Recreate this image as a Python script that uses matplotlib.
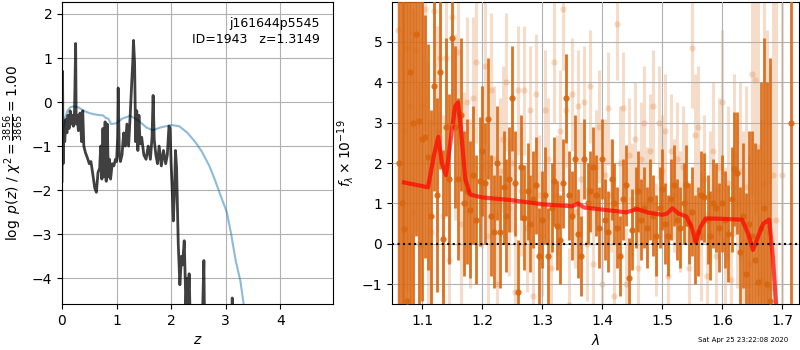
import numpy as np
import matplotlib
matplotlib.use("Agg")
import matplotlib.pyplot as plt

# ---------------------------------------------------------------------------
# DATA
# ---------------------------------------------------------------------------
# left panel: redshift PDF
pz_z = [0.00, 0.01, 0.02, 0.03, 0.05, 0.07, 0.09, 0.11, 0.13, 0.15, 0.17, 0.19,
        0.21, 0.23, 0.25, 0.26, 0.28, 0.30, 0.33, 0.36, 0.38, 0.40, 0.43, 0.46,
        0.50, 0.53, 0.56, 0.60, 0.63, 0.66, 0.69, 0.71, 0.73, 0.75, 0.77, 0.79,
        0.81, 0.83, 0.85, 0.87, 0.89, 0.92, 0.95, 0.98, 1.00, 1.02, 1.03, 1.05,
        1.07, 1.10, 1.13, 1.16, 1.19, 1.22, 1.25, 1.28, 1.30, 1.31, 1.33, 1.35,
        1.37, 1.39, 1.41, 1.43, 1.46, 1.50, 1.54, 1.58, 1.62, 1.65, 1.67, 1.69,
        1.72, 1.75, 1.78, 1.82, 1.86, 1.90, 1.93, 1.96, 1.98, 2.00, 2.02, 2.04,
        2.06, 2.08, 2.10, 2.13, 2.16, 2.19, 2.21, 2.24, 2.27, 2.29, 2.31, 2.33,
        2.36, 2.40, 2.45, 2.50, 2.55, 2.58, 2.60, 2.62, 2.66, 2.80, 3.00, 3.10,
        3.12, 3.14, 3.20]
pz_logp = [-1.80, 0.70, -1.40, -0.50, -0.90, -0.40, -0.70, -0.30, -0.60, -0.20,
           -0.50, -0.30, -0.55, -0.20, 1.33, -0.50, -0.30, -0.65, -0.25, -0.90,
           -0.20, -1.00, -1.15, -1.25, -1.40, -1.35, -1.60, -1.95, -2.05, -1.60,
           -1.50, -1.00, -1.75, -0.60, -1.70, -0.45, -1.80, -0.50, -1.70, -1.30,
           -1.75, -1.40, -1.45, -1.30, -1.35, -0.80, 0.32, -1.20, -1.35, -1.20,
           -0.70, -1.00, -0.50, -1.00, -0.30, 0.50, 1.00, 1.40, 0.90, -0.90,
           -0.20, -1.10, -0.30, -0.95, -0.80, -1.20, -1.30, -1.00, -1.30, -0.80,
           0.15, -0.85, -1.20, -1.40, -1.00, -1.45, -1.10, -1.40, -1.20, -0.55,
           -0.60, -1.40, -2.00, -2.70, -2.10, -1.10, -1.50, -3.20, -4.15, -3.50,
           -3.70, -3.15, -4.60, -4.00, -4.60, -3.90, -5.50, -6.00, -6.00, -6.00,
           -6.00, -4.60, -3.60, -6.00, -6.00, -6.00, -6.00, -6.00, -4.45, -6.00,
           -6.00]

prior_z = [0.00, 0.03, 0.06, 0.10, 0.15, 0.20, 0.30, 0.40, 0.50, 0.60, 0.70, 0.75,
           0.80, 0.85, 0.90, 1.00, 1.10, 1.25, 1.40, 1.55, 1.66, 1.80, 2.00, 2.15,
           2.30, 2.45, 2.56, 2.70, 2.80, 2.90, 3.02, 3.10, 3.18, 3.27, 3.33]
prior_logp = [-1.00, -0.60, -0.35, -0.20, -0.12, -0.10, -0.12, -0.20, -0.25,
              -0.28, -0.30, -0.30, -0.36, -0.38, -0.50, -0.48, -0.38, -0.31,
              -0.42, -0.58, -0.64, -0.58, -0.52, -0.55, -0.70, -0.92, -1.12,
              -1.45, -1.76, -2.10, -2.50, -3.00, -3.58, -4.07, -4.60]

# right panel: grism spectrum, orientation 1 (dark)
wave_a = [1.062, 1.066, 1.070, 1.075, 1.080, 1.085, 1.090, 1.095, 1.100, 1.105,
          1.110, 1.115, 1.120, 1.125, 1.130, 1.135, 1.140, 1.145, 1.150, 1.155,
          1.160, 1.165, 1.170, 1.175, 1.180, 1.185, 1.190, 1.196, 1.200, 1.205,
          1.210, 1.215, 1.220, 1.225, 1.230, 1.236, 1.240, 1.245, 1.250, 1.255,
          1.260, 1.265, 1.270, 1.276, 1.280, 1.285, 1.290, 1.295, 1.300, 1.305,
          1.310, 1.316, 1.320, 1.325, 1.330, 1.335, 1.340, 1.345, 1.350, 1.355,
          1.360, 1.365, 1.370, 1.376, 1.380, 1.385, 1.390, 1.395, 1.400, 1.405,
          1.410, 1.416, 1.420, 1.425, 1.430, 1.435, 1.440, 1.445, 1.450, 1.456,
          1.460, 1.465, 1.470, 1.475, 1.480, 1.485, 1.490, 1.496, 1.500, 1.505,
          1.510, 1.515, 1.520, 1.525, 1.530, 1.536, 1.540, 1.545, 1.550, 1.555,
          1.560, 1.565, 1.570, 1.576, 1.580, 1.585, 1.590, 1.595, 1.600, 1.605,
          1.610, 1.616, 1.620, 1.625, 1.630, 1.635, 1.640, 1.645, 1.650, 1.655,
          1.660, 1.665, 1.670, 1.675, 1.680, 1.715]
flux_a = [2.0, 1.0, 0.37, -1.40, 4.25, 3.0, 5.20, 3.05, 2.60, 2.65,
          2.15, 0.70, 3.90, 1.20, 4.25, 0.12, 2.90, 1.60, 5.10, 2.90,
          1.60, 3.20, 1.00, 1.30, 0.85, 1.70, 0.60, 1.55, 2.30, 1.50,
          3.10, 0.70, 0.30, 2.00, 0.30, 1.40, 0.70, 1.60, 3.60, 1.50,
          -1.20, 1.90, 0.65, 1.30, 0.50, 1.10, 1.45, -0.30, 0.60, 1.20,
          -0.30, 0.90, 1.55, 0.45, 0.10, 1.50, 3.60, 1.20, 0.70, 2.10,
          0.25, -0.30, 2.10, 1.00, 1.30, 1.90, 1.20, 0.40, 2.10, 0.60,
          0.30, 1.60, 1.00, 0.40, -0.30, 1.10, 1.45, -0.85, 0.35, 0.90,
          1.30, 0.60, 0.90, 0.40, 1.10, 0.70, 0.20, 0.90, 1.35, 0.50,
          0.20, 1.10, 1.45, 0.60, 0.40, 1.00, 1.45, 0.50, 0.80, 0.10,
          0.30, 1.20, 1.15, 0.60, 0.20, 1.00, 0.90, 0.40, 1.00, 0.60,
          0.25, 1.10, 1.85, 1.75, -0.20, 0.70, -0.75, 0.50, 0.20, -0.40,
          -0.95, 0.40, 0.90, -1.00, -1.40, 3.00]
err_a = [9.0, 9.0, 8.0, 8.0, 7.0, 6.0, 5.0, 5.0, 4.0, 3.0,
         2.8, 2.6, 2.6, 2.4, 2.4, 2.2, 2.2, 2.1, 2.1, 2.0,
         2.0, 1.9, 1.8, 1.8, 1.7, 1.7, 1.6, 1.6, 1.6, 1.5,
         1.5, 1.5, 1.4, 1.4, 1.4, 1.4, 1.4, 1.3, 1.3, 1.3,
         1.3, 1.3, 1.3, 1.2, 1.2, 1.2, 1.2, 1.2, 1.2, 1.2,
         1.2, 1.1, 1.1, 1.1, 1.1, 1.1, 1.1, 1.1, 1.1, 1.1,
         1.1, 1.0, 1.0, 1.0, 1.0, 1.0, 1.0, 1.0, 1.0, 1.0,
         1.0, 1.0, 1.0, 1.0, 1.0, 1.0, 1.0, 1.0, 1.0, 1.0,
         1.0, 1.0, 1.0, 1.0, 1.0, 1.0, 1.0, 1.0, 1.0, 1.0,
         1.0, 1.0, 1.0, 1.0, 1.0, 1.0, 1.0, 1.0, 1.1, 1.1,
         1.1, 1.1, 1.1, 1.1, 1.1, 1.1, 1.1, 1.1, 1.2, 1.2,
         1.2, 1.3, 1.4, 1.5, 1.6, 1.8, 2.0, 2.3, 2.6, 2.9,
         3.3, 3.6, 4.2, 5.0, 6.0, 20.0]

# orientation 2 (light)
wave_b = [1.060, 1.065, 1.070, 1.075, 1.080, 1.085, 1.090, 1.095, 1.100, 1.105,
          1.110, 1.115, 1.120, 1.125, 1.130, 1.135, 1.140, 1.145, 1.150, 1.155,
          1.160, 1.165, 1.170, 1.175, 1.180, 1.185, 1.190, 1.200, 1.205, 1.210,
          1.215, 1.220, 1.225, 1.230, 1.235, 1.240, 1.245, 1.250, 1.255, 1.260,
          1.265, 1.270, 1.275, 1.280, 1.285, 1.290, 1.295, 1.300, 1.305, 1.310,
          1.315, 1.320, 1.325, 1.330, 1.335, 1.340, 1.345, 1.350, 1.355, 1.360,
          1.365, 1.370, 1.375, 1.380, 1.385, 1.390, 1.395, 1.400, 1.405, 1.410,
          1.415, 1.420, 1.425, 1.430, 1.435, 1.440, 1.445, 1.450, 1.455, 1.460,
          1.465, 1.470, 1.475, 1.480, 1.485, 1.490, 1.495, 1.500, 1.505, 1.510,
          1.515, 1.520, 1.525, 1.530, 1.535, 1.540, 1.545, 1.550, 1.555, 1.560,
          1.565, 1.570, 1.575, 1.580, 1.585, 1.590, 1.595, 1.600, 1.605, 1.610,
          1.615, 1.620, 1.625, 1.630, 1.635, 1.640, 1.645, 1.650, 1.655, 1.660,
          1.665, 1.670, 1.675, 1.680, 1.685, 1.690, 1.700]
flux_b = [5.30, -1.50, 2.80, 4.85, 3.40, 0.80, 4.80, 0.00, 3.40, 5.80,
          1.50, 0.30, 5.75, 2.80, 4.60, 0.70, 4.60, -0.40, 5.60, 2.90,
          4.75, 0.50, 1.55, 3.50, 1.00, 3.60, 4.50, 1.90, 4.40, 0.20,
          3.80, 2.10, -1.00, 1.80, 2.60, 4.00, 0.90, 2.00, -1.20, 3.80,
          1.30, 3.80, 0.40, 3.30, -1.30, 3.70, 1.20, 0.20, 3.30, 2.10,
          -0.60, 4.50, 1.20, 2.80, 5.80, 3.30, -1.50, 3.70, 0.80, 3.40,
          1.60, 3.50, 0.00, 3.90, -0.50, 1.90, 2.90, -1.00, 1.70, 3.35,
          1.20, -1.30, 5.45, 2.00, 3.35, -1.00, 2.20, 1.10, 2.60, -0.60,
          2.10, 3.00, 1.00, 2.30, 3.40, 0.10, 3.00, 1.80, 2.80, -0.80,
          2.30, 1.20, 2.10, 0.80, 1.90, 1.50, -0.60, 4.85, 2.70, 2.90,
          0.20, 1.60, -0.80, 1.20, 2.30, -0.30, 1.90, 3.50, 0.10, 1.50,
          -0.90, 2.20, 1.00, 1.80, 0.50, 1.40, -0.50, 4.20, 4.05, 2.40,
          -0.90, 1.50, 0.30, -1.10, 1.70, 0.60, 1.70]
err_b = [8.0, 8.0, 7.0, 6.0, 5.0, 5.0, 4.5, 4.0, 3.5, 3.0,
         3.0, 2.8, 2.8, 2.6, 2.6, 2.5, 2.5, 2.4, 2.4, 2.3,
         2.3, 2.2, 2.2, 2.1, 2.1, 2.0, 2.0, 2.0, 1.9, 1.9,
         1.9, 1.8, 1.8, 1.8, 1.8, 1.7, 1.7, 1.7, 1.7, 1.6,
         1.6, 1.6, 1.6, 1.6, 1.5, 1.5, 1.5, 1.5, 1.5, 1.5,
         1.5, 1.5, 1.5, 1.5, 1.5, 1.4, 1.4, 1.4, 1.4, 1.4,
         1.4, 1.4, 1.4, 1.4, 1.4, 1.4, 1.4, 1.4, 1.4, 1.4,
         1.4, 1.4, 1.4, 1.4, 1.4, 1.4, 1.4, 1.4, 1.4, 1.4,
         1.4, 1.4, 1.4, 1.4, 1.4, 1.4, 1.4, 1.4, 1.4, 1.4,
         1.4, 1.4, 1.4, 1.5, 1.5, 1.5, 1.5, 1.5, 1.5, 1.5,
         1.6, 1.6, 1.6, 1.6, 1.7, 1.7, 1.7, 1.8, 1.8, 1.9,
         1.9, 2.0, 2.1, 2.2, 2.3, 2.5, 2.7, 3.0, 3.3, 3.7,
         4.0, 4.5, 5.0, 5.5, 6.0, 7.0, 8.0]

# best-fit template
model_wave = [1.070, 1.110, 1.120, 1.127, 1.133, 1.140, 1.148, 1.155, 1.160,
              1.165, 1.172, 1.180, 1.200, 1.250, 1.300, 1.350, 1.360, 1.370,
              1.400, 1.440, 1.458, 1.475, 1.500, 1.508, 1.517, 1.527, 1.540,
              1.548, 1.556, 1.563, 1.572, 1.600, 1.633, 1.643, 1.651, 1.660,
              1.668, 1.678, 1.684, 1.690]
model_flux = [1.52, 1.40, 2.20, 2.65, 2.00, 1.70, 2.60, 3.40, 3.50,
              2.80, 1.60, 1.22, 1.15, 1.08, 0.98, 0.93, 1.00, 0.90,
              0.85, 0.78, 0.86, 0.78, 0.72, 0.75, 0.88, 0.75, 0.68,
              0.45, 0.05, 0.40, 0.63, 0.62, 0.60, 0.25, -0.15, 0.20,
              0.50, 0.60, -0.30, -1.60]

obj_label = "j161644p5545\nID=1943   z=1.3149"
timestamp = "Sat Apr 25 23:22:08 2020"

# ---------------------------------------------------------------------------
# FIGURE
# ---------------------------------------------------------------------------
fig = plt.figure(figsize=(8, 3.5), dpi=100)
ax1 = fig.add_axes([0.0775, 0.131, 0.339, 0.863])
ax2 = fig.add_axes([0.49, 0.131, 0.509, 0.863])

# redshift PDF
ax1.plot(prior_z, prior_logp, color="tab:blue", alpha=0.5, lw=1.5)
ax1.plot(pz_z, pz_logp, color="k", alpha=0.75, lw=2)
ax1.set_xlim(0, 4.97)
ax1.set_ylim(-4.59, 2.27)
ax1.set_xticks([0, 1, 2, 3, 4])
ax1.set_yticks([-4, -3, -2, -1, 0, 1, 2])
ax1.grid()
ax1.set_xlabel(r"$z$")
ax1.set_ylabel(r"$\log\ p(z)$ / $\chi^2=\frac{3856}{3865}=1.00$")
ax1.text(0.95, 0.95, obj_label, transform=ax1.transAxes, ha="right", va="top",
         fontsize=9, linespacing=1.3)

# spectrum
orange = "#d9660f"
ax2.errorbar(wave_b, flux_b, yerr=err_b, marker="o", ms=4.5, ls="none",
             color=orange, alpha=0.22, elinewidth=2.2, mec="none", zorder=2)
ax2.errorbar(wave_a, flux_a, yerr=err_a, marker="o", ms=4.5, ls="none",
             color=orange, alpha=0.9, elinewidth=2, mec="none", zorder=3)
ax2.plot(model_wave, model_flux, color="red", alpha=0.7, lw=3, zorder=4)
ax2.axhline(0, color="k", ls=":", lw=1.5, zorder=5)
ax2.set_xlim(1.05, 1.728)
ax2.set_ylim(-1.49, 5.98)
ax2.set_xticks([1.1, 1.2, 1.3, 1.4, 1.5, 1.6, 1.7])
ax2.set_yticks([-1, 0, 1, 2, 3, 4, 5])
ax2.set_axisbelow(False)
ax2.grid(zorder=6)
ax2.set_xlabel(r"$\lambda$")
ax2.set_ylabel(r"$f_\lambda \times 10^{-19}$")

fig.text(0.985, 0.028, timestamp, ha="right", va="center", fontsize=5)

fig.savefig("out.png", dpi=100)
plt.close(fig)
